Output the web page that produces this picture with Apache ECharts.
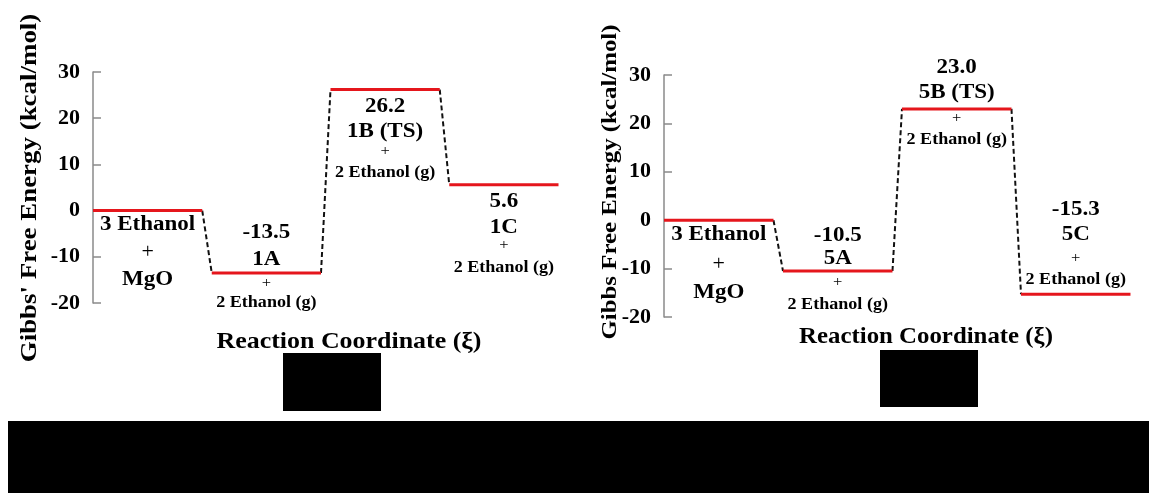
<!DOCTYPE html>
<html>
<head>
<meta charset="utf-8">
<script src="https://cdn.jsdelivr.net/npm/echarts@6/dist/echarts.min.js"></script>
<style>
html,body{margin:0;padding:0;background:#fff;}
#chart{width:1149px;height:493px;}
</style>
</head>
<body>
<div id="chart"></div>
<script>
// ---- data ----
const yTicks = [-20, -10, 0, 10, 20, 30];
const leftNames = ['3 Ethanol + MgO', '1A', '1B (TS)', '1C'];
const leftEnergies = [0, -13.5, 26.2, 5.6];
const rightNames = ['3 Ethanol + MgO', '5A', '5B (TS)', '5C'];
const rightEnergies = [0, -10.5, 23.0, -15.3];
const reactantLines = ['3 Ethanol', '+', 'MgO'];
const productSuffix = ['+', '2 Ethanol (g)'];
const leftYTitle = "Gibbs' Free Energy (kcal/mol)";
const rightYTitle = 'Gibbs Free Energy (kcal/mol)';
const xTitle = 'Reaction Coordinate (\u03be)';

// ---- layout / style ----
const FONT = '"Liberation Serif", "Times New Roman", serif';
const LEVEL_W = 0.92;
const STY = {
  big:   {size: 20, weight: 'bold', sx: 1.15},
  plusB: {size: 20, weight: 'normal', sx: 1.1},
  plus:  {size: 15, weight: 'normal', sx: 1.1},
  small: {size: 16, weight: 'bold', sx: 1.13}
};
const leftLayout = [
  {dy: [14, 42, 69], st: ['big', 'plusB', 'big']},
  {dy: [-40, -13, 10, 30], st: ['big', 'big', 'plus', 'small']},
  {dy: [17, 42, 62, 83], st: ['big', 'big', 'plus', 'small']},
  {dy: [17, 43, 60, 83], st: ['big', 'big', 'plus', 'small']}
];
const rightLayout = [
  {dy: [15, 45, 73], st: ['big', 'plusB', 'big']},
  {dy: [-35, -12, 11, 34], st: ['big', 'big', 'plus', 'small']},
  {dy: [-41, -16, 9, 31], st: ['big', 'big', 'plus', 'small']},
  {dy: [-84, -59, -36, -14], st: ['big', 'big', 'plus', 'small']}
];

function levelText(names, energies, i) {
  if (i === 0) return reactantLines;
  return [energies[i].toFixed(1), names[i]].concat(productSuffix);
}

function buildSeries(names, energies, layout, idx) {
  const s = [];
  // dashed connectors
  for (let i = 0; i < energies.length - 1; i++) {
    s.push({
      type: 'line', xAxisIndex: idx, yAxisIndex: idx, silent: true, symbol: 'none', z: 2,
      lineStyle: {color: '#111', width: 2, type: [5, 3]},
      data: [[i + LEVEL_W, energies[i]], [i + 1, energies[i + 1]]]
    });
  }
  // red levels
  for (let i = 0; i < energies.length; i++) {
    s.push({
      type: 'line', xAxisIndex: idx, yAxisIndex: idx, silent: true, symbol: 'none', z: 3,
      lineStyle: {color: '#e5161c', width: 3},
      data: [[i, energies[i]], [i + LEVEL_W, energies[i]]]
    });
  }
  // text labels (custom series placed through the axes)
  const items = [];
  for (let i = 0; i < energies.length; i++) {
    const lines = levelText(names, energies, i);
    lines.forEach((t, k) => {
      items.push({value: [i + LEVEL_W / 2, energies[i]], text: t, dy: layout[i].dy[k], st: STY[layout[i].st[k]]});
    });
  }
  s.push({
    type: 'custom', xAxisIndex: idx, yAxisIndex: idx, silent: true, z: 5,
    data: items.map(d => d.value),
    renderItem: function (params, api) {
      const it = items[params.dataIndex];
      const p = api.coord([api.value(0), api.value(1)]);
      return {
        type: 'text', x: p[0], y: p[1] + it.dy, scaleX: it.st.sx,
        style: {
          text: it.text, fill: '#000',
          font: it.st.weight + ' ' + it.st.size + 'px ' + FONT,
          align: 'center', verticalAlign: 'middle'
        }
      };
    }
  });
  return s;
}

function yAxisCfg(idx) {
  return {
    type: 'value', gridIndex: idx, min: yTicks[0], max: yTicks[yTicks.length - 1], interval: 10,
    axisLine: {show: true, lineStyle: {color: '#8a8a8a', width: 1.5}},
    axisTick: {show: true, inside: true, length: 8, lineStyle: {color: '#8a8a8a', width: 1.5}},
    splitLine: {show: false},
    axisLabel: {
      margin: 13, color: '#000', fontFamily: FONT, fontSize: 22, fontWeight: 'bold',
      formatter: v => (yTicks.indexOf(v) >= 0 ? String(v) : '')
    }
  };
}
function xAxisCfg(idx) {
  return {type: 'value', gridIndex: idx, min: 0, max: 4, show: false};
}

const chart = echarts.init(document.getElementById('chart'), null, {renderer: 'canvas'});
chart.setOption({
  animation: false,
  backgroundColor: '#fff',
  grid: [
    {left: 93, top: 72, width: 475, height: 231},
    {left: 664, top: 75, width: 476, height: 242}
  ],
  xAxis: [xAxisCfg(0), xAxisCfg(1)],
  yAxis: [yAxisCfg(0), yAxisCfg(1)],
  series: buildSeries(leftNames, leftEnergies, leftLayout, 0)
    .concat(buildSeries(rightNames, rightEnergies, rightLayout, 1)),
  graphic: [
    {type: 'text', x: 30, y: 188, rotation: Math.PI / 2, scaleX: 1.17,
     style: {text: leftYTitle, font: 'bold 23px ' + FONT, fill: '#000', align: 'center', verticalAlign: 'middle'}},
    {type: 'text', x: 610, y: 182, rotation: Math.PI / 2, scaleX: 1.13,
     style: {text: rightYTitle, font: 'bold 22px ' + FONT, fill: '#000', align: 'center', verticalAlign: 'middle'}},
    {type: 'text', x: 349, y: 342, scaleX: 1.08,
     style: {text: xTitle, font: 'bold 24px ' + FONT, fill: '#000', align: 'center', verticalAlign: 'middle'}},
    {type: 'text', x: 926, y: 337, scaleX: 1.08,
     style: {text: xTitle, font: 'bold 23px ' + FONT, fill: '#000', align: 'center', verticalAlign: 'middle'}},
    {type: 'rect', shape: {x: 283, y: 353, width: 98, height: 58}, style: {fill: '#000'}},
    {type: 'rect', shape: {x: 880, y: 350, width: 98, height: 57}, style: {fill: '#000'}},
    {type: 'rect', shape: {x: 8, y: 421, width: 1141, height: 72}, style: {fill: '#000'}}
  ]
});
</script>
</body>
</html>
